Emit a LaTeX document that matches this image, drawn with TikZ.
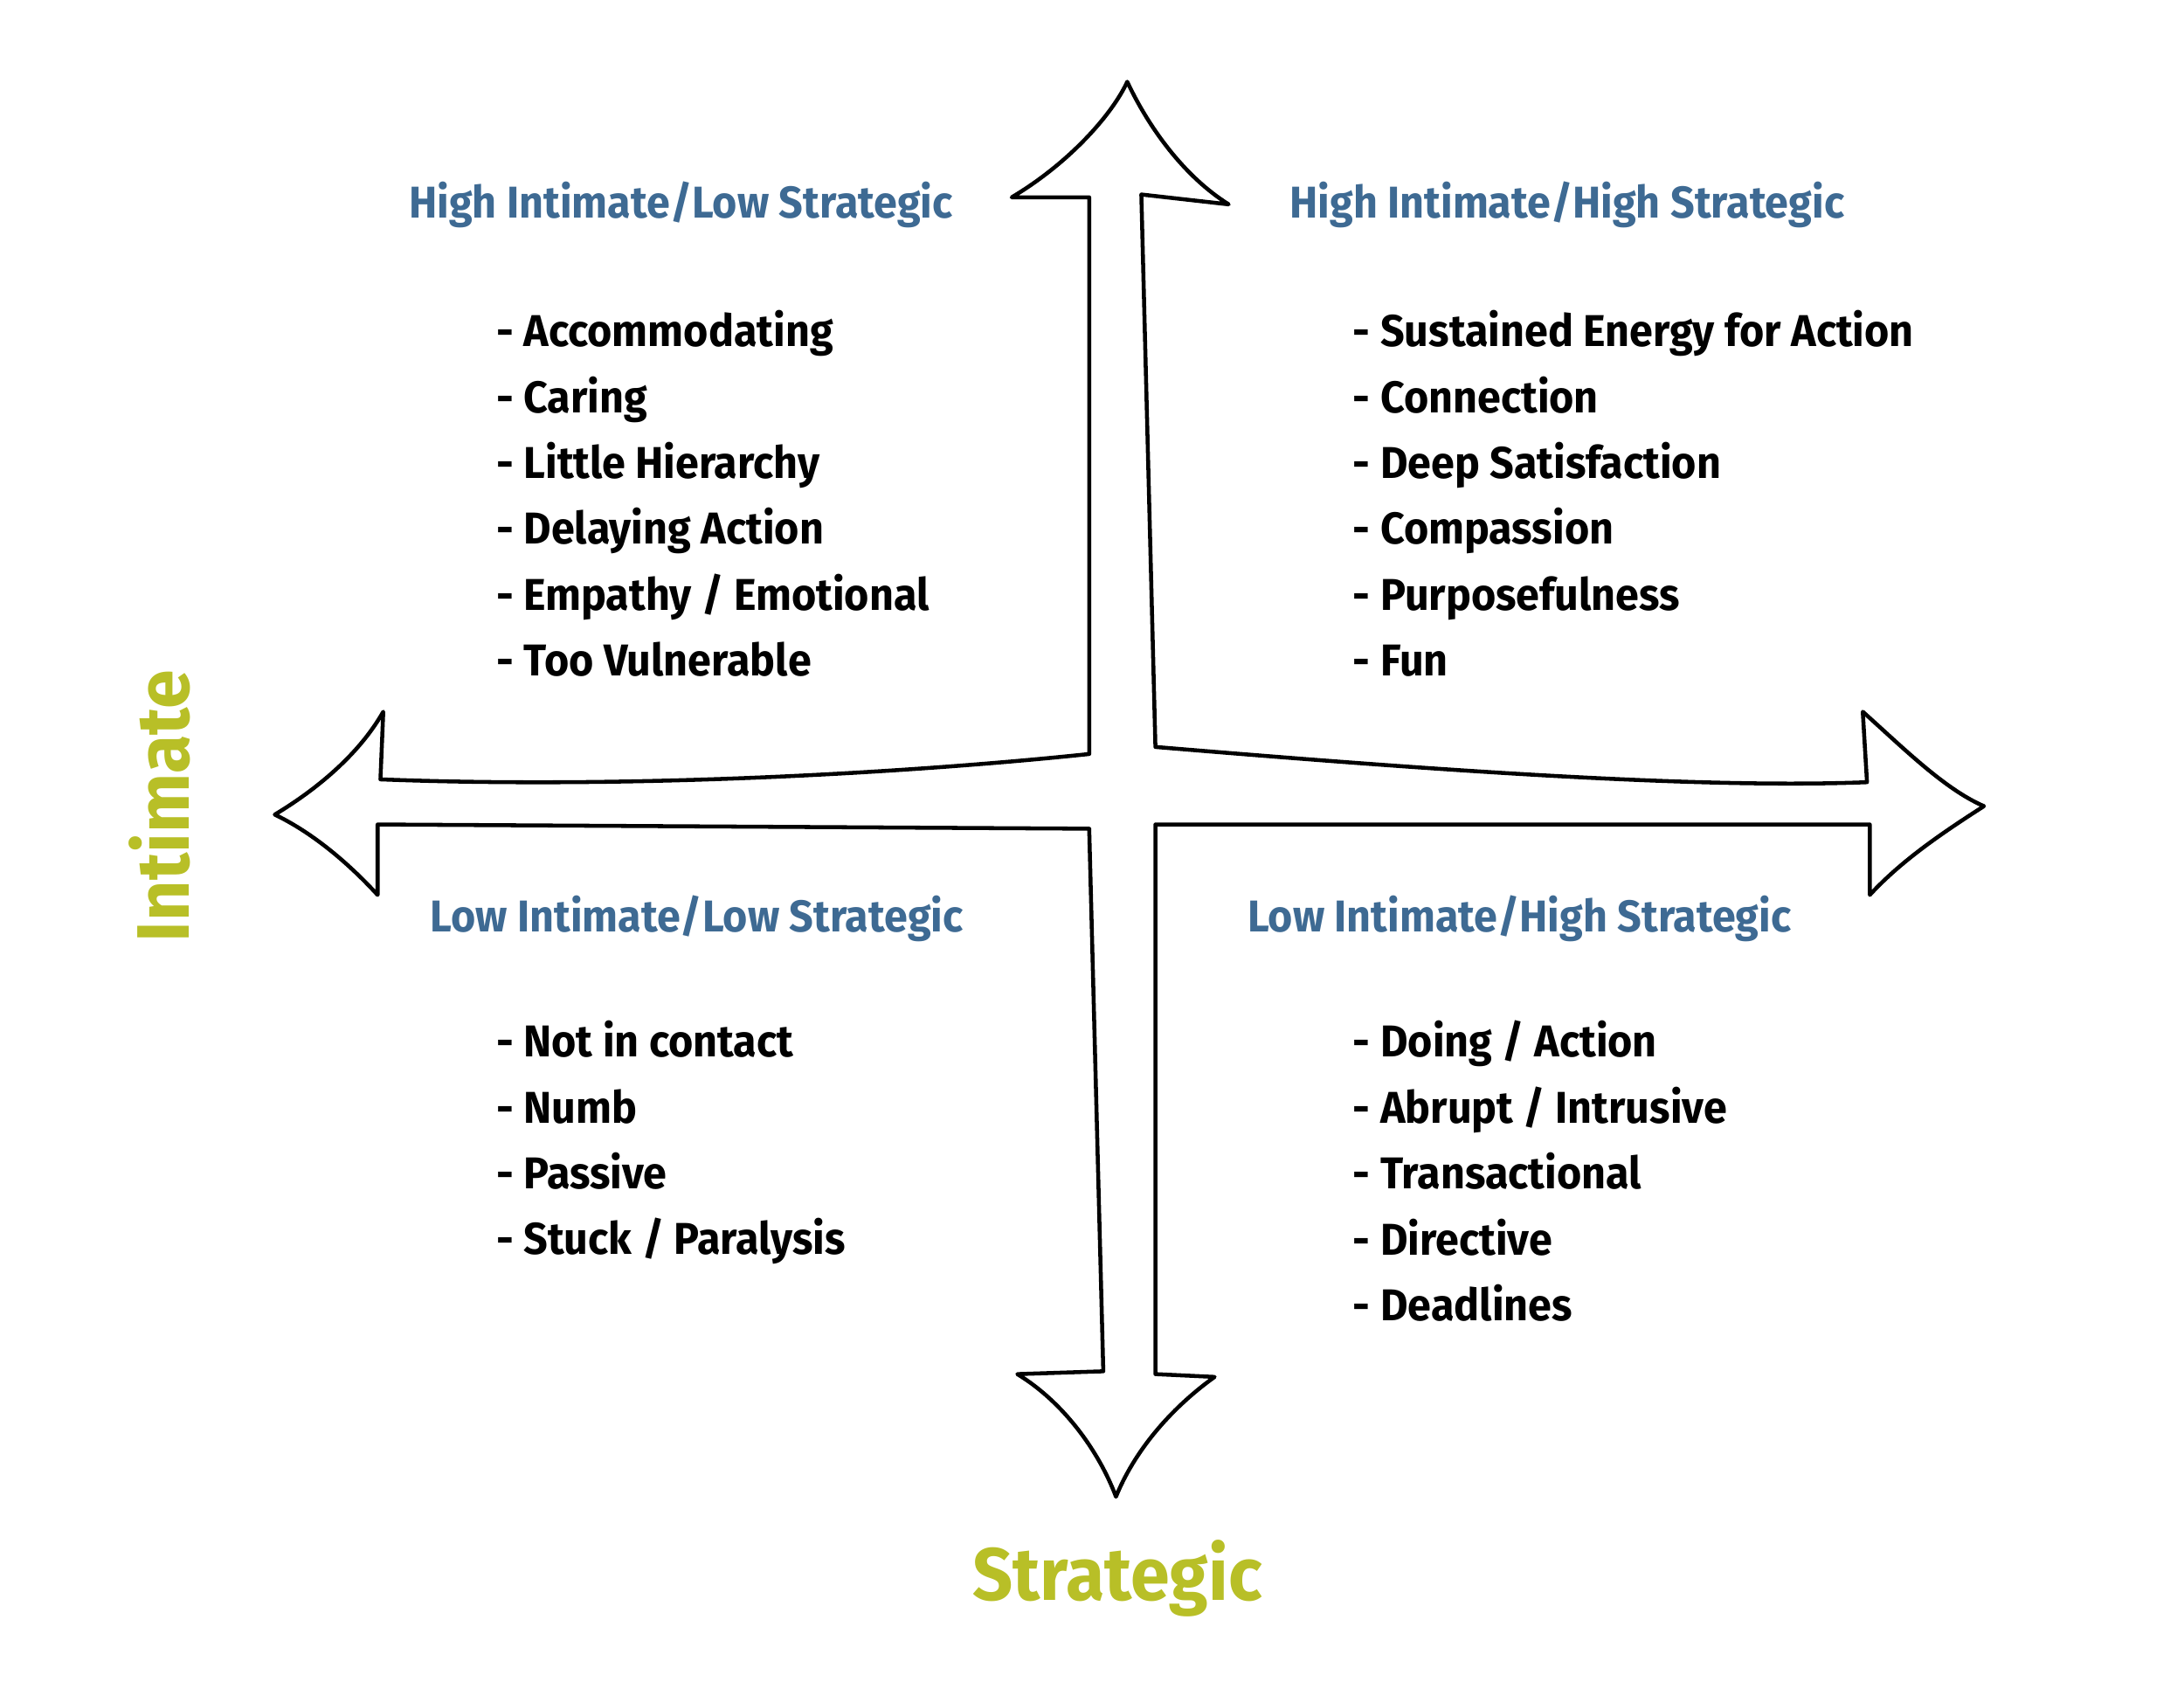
\documentclass[tikz,border=0pt]{standalone}
\usepackage{fontspec}
\setmainfont{Fira Sans}[FakeStretch=0.95]
\usetikzlibrary{positioning}
\definecolor{headblue}{HTML}{3E6A93}
\definecolor{axisolive}{HTML}{B8BF27}
\tikzstyle{head} = [anchor=west, text=headblue, font=\bfseries\fontsize{18}{22}\selectfont, inner sep=0pt]
\tikzstyle{items} = [anchor=north west, align=left, font=\bfseries\fontsize{18}{26.6}\selectfont, inner sep=0pt]
\tikzstyle{axislbl} = [text=axisolive, font=\bfseries\fontsize{30}{36}\selectfont, inner sep=0pt]

\begin{document}
\begin{tikzpicture}[x=0.02cm, y=-0.02cm]
		\useasboundingbox (0,0) rectangle (1550,1198);
		% the cross of arrows
		\draw [line width=1.6pt, line join=round] (773,535) -- (773,140) -- (718,140)
			.. controls (760,115) and (790,80) .. (800,58)
			.. controls (815,90) and (840,125) .. (872,145) -- (810,138) -- (820,530)
			.. controls (1000,545) and (1200,560) .. (1325,555) -- (1322,505)
			.. controls (1350,530) and (1380,560) .. (1408,572)
			.. controls (1380,590) and (1350,610) .. (1327,635) -- (1327,585) -- (820,585) -- (820,975) -- (862,977)
			.. controls (830,1000) and (805,1030) .. (792,1062)
			.. controls (780,1030) and (755,995) .. (722,975) -- (783,973) -- (773,588) -- (268,585) -- (268,635)
			.. controls (245,610) and (220,590) .. (195,578)
			.. controls (225,560) and (255,535) .. (272,505) -- (270,553)
			.. controls (450,560) and (650,548) .. (773,535) -- cycle;
		% quadrant titles
		\node (hilo) [head] at (290,145) {High Intimate/Low Strategic};
		\node (hihi) [head] at (915,145) {High Intimate/High Strategic};
		\node (lolo) [head] at (305,652) {Low Intimate/Low Strategic};
		\node (lohi) [head] at (885,652) {Low Intimate/High Strategic};
		% quadrant lists
		\node (hiloL) [items] at (352,220) {- Accommodating\\- Caring\\- Little Hierarchy\\- Delaying Action\\- Empathy / Emotional\\- Too Vulnerable};
		\node (hihiL) [items] at (960,220) {- Sustained Energy for Action\\- Connection\\- Deep Satisfaction\\- Compassion\\- Purposefulness\\- Fun};
		\node (loloL) [items] at (352,724) {- Not in contact\\- Numb\\- Passive\\- Stuck / Paralysis};
		\node (lohiL) [items] at (960,724) {- Doing / Action\\- Abrupt / Intrusive\\- Transactional\\- Directive\\- Deadlines};
		% axis names
		\node (intimate) [axislbl, rotate=90] at (113,572) {Intimate};
		\node (strategic) [axislbl] at (793,1120) {Strategic};
\end{tikzpicture}
\end{document}
